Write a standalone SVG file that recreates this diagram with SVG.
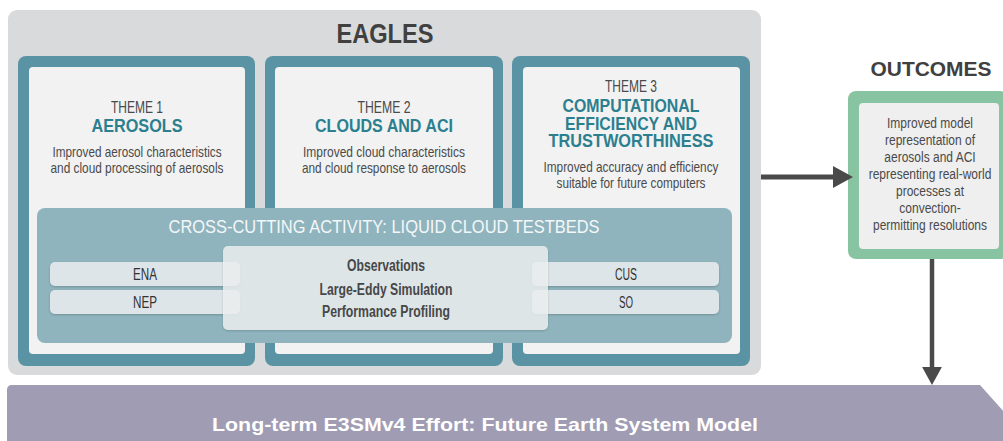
<svg xmlns="http://www.w3.org/2000/svg" width="1003" height="441" viewBox="0 0 1003 441">
<style>
text{font-family:"Liberation Sans",Arial,sans-serif;text-anchor:middle}
.theme{font-size:17px;fill:#4a4a4a}
.title{font-size:19px;font-weight:bold;fill:#2b7f8f}
.t3{font-size:17.5px}
.desc{font-size:15px;fill:#4a4a4a}
.head{font-weight:bold;fill:#404040}
.bar{fill:#dde5e8}
.tbar{font-size:16px;fill:#333333}
.ctr{font-size:16px;font-weight:bold;fill:#474747}
.out{font-size:15px;fill:#4a4a4a}
.teal{fill:#5a93a3}
.inner{fill:#f2f2f2}
</style>
<defs>
<filter id="sh" x="-5%" y="-10%" width="110%" height="130%">
<feDropShadow dx="0" dy="1" stdDeviation="1" flood-color="#000" flood-opacity="0.2"/>
</filter>
<marker id="ah" markerWidth="4" markerHeight="4.4" refX="0" refY="2.2" orient="auto" markerUnits="strokeWidth">
<path d="M0,0 L4,2.2 L0,4.4 z" fill="#4a4a4a"/>
</marker>
</defs>

<g id="bottom-band">
<path d="M7,390 Q7,385 12,385 L980,385 L1030,441 L7,441 z" fill="#9f9cb4"/>
<text x="485" y="431" font-size="18.5" font-weight="bold" fill="#ffffff" textLength="546" lengthAdjust="spacingAndGlyphs">Long-term E3SMv4 Effort: Future Earth System Model</text>
</g>

<g id="eagles">
<rect x="8" y="10" width="753" height="365" rx="9" fill="#d9dadb"/>
<text class="head" x="385" y="43" font-size="27" textLength="97" lengthAdjust="spacingAndGlyphs">EAGLES</text>
</g>

<g id="theme1">
<rect class="teal" x="18" y="56" width="237" height="310" rx="8"/>
<rect class="inner" x="29" y="67" width="216" height="287" rx="4"/>
<text class="theme" x="137" y="113" textLength="52" lengthAdjust="spacingAndGlyphs">THEME 1</text>
<text class="title" x="137" y="132" textLength="91" lengthAdjust="spacingAndGlyphs">AEROSOLS</text>
<text class="desc" x="137" y="157" textLength="169" lengthAdjust="spacingAndGlyphs">Improved aerosol characteristics</text>
<text class="desc" x="137" y="173" textLength="173" lengthAdjust="spacingAndGlyphs">and cloud processing of aerosols</text>
</g>

<g id="theme2">
<rect class="teal" x="265" y="56" width="238" height="310" rx="8"/>
<rect class="inner" x="275" y="67" width="218" height="287" rx="4"/>
<text class="theme" x="384" y="113" textLength="53" lengthAdjust="spacingAndGlyphs">THEME 2</text>
<text class="title" x="384" y="132" textLength="138" lengthAdjust="spacingAndGlyphs">CLOUDS AND ACI</text>
<text class="desc" x="384" y="157" textLength="162" lengthAdjust="spacingAndGlyphs">Improved cloud characteristics</text>
<text class="desc" x="384" y="173" textLength="164" lengthAdjust="spacingAndGlyphs">and cloud response to aerosols</text>
</g>

<g id="theme3">
<rect class="teal" x="512" y="56" width="238" height="310" rx="8"/>
<rect class="inner" x="523" y="67" width="217" height="287" rx="4"/>
<text class="theme" x="631" y="92" textLength="52" lengthAdjust="spacingAndGlyphs">THEME 3</text>
<text class="title t3" x="631" y="112" textLength="137" lengthAdjust="spacingAndGlyphs">COMPUTATIONAL</text>
<text class="title t3" x="631" y="129.5" textLength="132" lengthAdjust="spacingAndGlyphs">EFFICIENCY AND</text>
<text class="title t3" x="631" y="147" textLength="165" lengthAdjust="spacingAndGlyphs">TRUSTWORTHINESS</text>
<text class="desc" x="631" y="172" textLength="175" lengthAdjust="spacingAndGlyphs">Improved accuracy and efficiency</text>
<text class="desc" x="631" y="188" textLength="149" lengthAdjust="spacingAndGlyphs">suitable for future computers</text>
</g>

<g id="cross-cutting">
<rect x="37" y="208" width="695" height="135" rx="8" fill="#8fb4be"/>
<text x="384" y="233" font-size="18.5" fill="#f4f7f8" textLength="431" lengthAdjust="spacingAndGlyphs">CROSS-CUTTING ACTIVITY: LIQUID CLOUD TESTBEDS</text>
</g>

<g id="ena">
<rect class="bar" x="50" y="262" width="190" height="24" rx="5" filter="url(#sh)"/>
<text class="tbar" x="145" y="280" textLength="24" lengthAdjust="spacingAndGlyphs">ENA</text>
</g>
<g id="nep">
<rect class="bar" x="50" y="290" width="190" height="24" rx="5" filter="url(#sh)"/>
<text class="tbar" x="145" y="308" textLength="24" lengthAdjust="spacingAndGlyphs">NEP</text>
</g>
<g id="cus">
<rect class="bar" x="532" y="262" width="187" height="24" rx="5" filter="url(#sh)"/>
<text class="tbar" x="626" y="280" textLength="22" lengthAdjust="spacingAndGlyphs">CUS</text>
</g>
<g id="so">
<rect class="bar" x="532" y="290" width="187" height="24" rx="5" filter="url(#sh)"/>
<text class="tbar" x="626" y="308" textLength="14" lengthAdjust="spacingAndGlyphs">SO</text>
</g>

<g id="methods">
<rect x="223" y="246" width="325" height="84" rx="5" fill="#eef1f2" fill-opacity="0.82" filter="url(#sh)"/>
<text class="ctr" x="386" y="271" textLength="78" lengthAdjust="spacingAndGlyphs">Observations</text>
<text class="ctr" x="386" y="294.5" textLength="133" lengthAdjust="spacingAndGlyphs">Large-Eddy Simulation</text>
<text class="ctr" x="386" y="316.5" textLength="128" lengthAdjust="spacingAndGlyphs">Performance Profiling</text>
</g>

<g id="outcomes">
<text class="head" x="931" y="76" font-size="20.5" textLength="121" lengthAdjust="spacingAndGlyphs">OUTCOMES</text>
<rect x="848" y="91" width="160" height="168" rx="8" fill="#88c4a1"/>
<rect x="859" y="103" width="140" height="146" rx="4" fill="#efefef"/>
<g transform="translate(930 0) scale(0.8 1)">
<text class="out" x="0" y="128">Improved model</text>
<text class="out" x="0" y="145">representation of</text>
<text class="out" x="0" y="162">aerosols and ACI</text>
<text class="out" x="0" y="179">representing real-world</text>
<text class="out" x="0" y="196">processes at</text>
<text class="out" x="0" y="213">convection-</text>
<text class="out" x="0" y="230">permitting resolutions</text>
</g>
</g>

<g id="connectors" fill="none" stroke="#4a4a4a" stroke-width="5">
<line x1="761" y1="177" x2="833" y2="177" marker-end="url(#ah)"/>
<line x1="932" y1="259" x2="932" y2="367" stroke-width="4.5" marker-end="url(#ah)"/>
</g>
</svg>
